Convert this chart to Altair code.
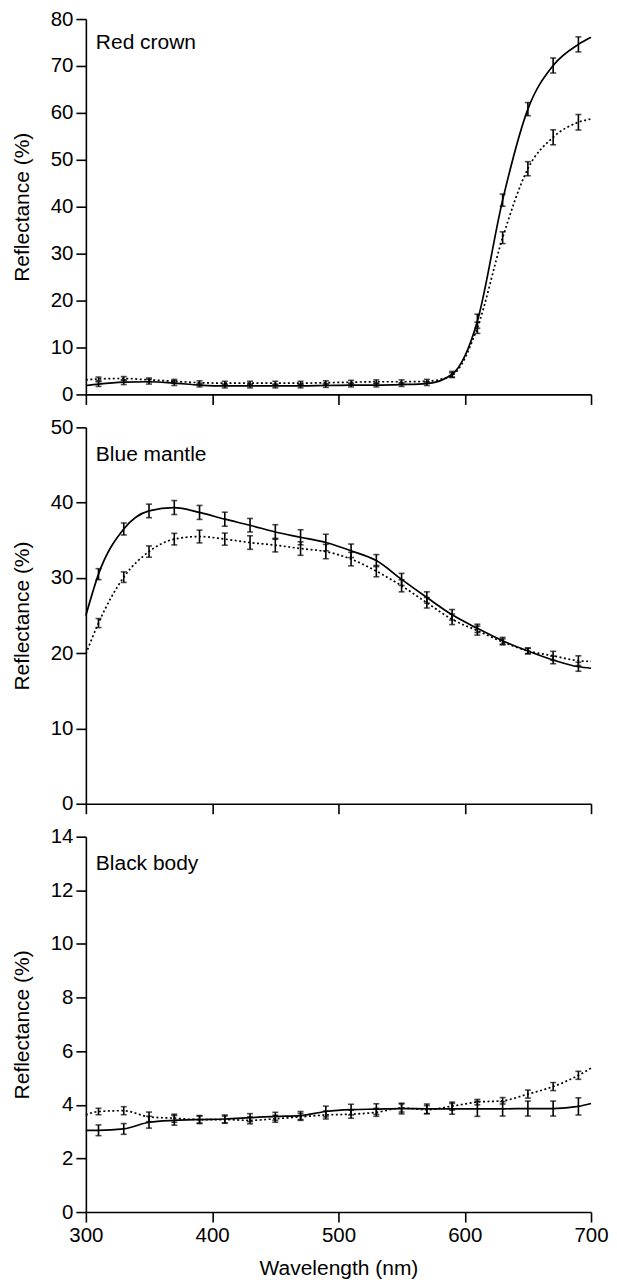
import altair as alt
import pandas as pd

# Wavelengths (nm) at which error bars are drawn
WL = [310, 330, 350, 370, 390, 410, 430, 450, 470, 490,
      510, 530, 550, 570, 590, 610, 630, 650, 670, 690]
WL_START, WL_END = 300, 700

# ---- Red crown ----
RC_SOLID = [2.2, 2.6, 2.7, 2.4, 2.0, 1.8, 1.8, 1.8, 1.8, 1.9,
            2.0, 2.0, 2.1, 2.3, 4.3, 15.6, 41.4, 60.8, 70.1, 74.6]
RC_SOLID_ERR = [0.5, 0.5, 0.5, 0.5, 0.4, 0.4, 0.4, 0.4, 0.4, 0.4,
                0.4, 0.4, 0.4, 0.4, 0.6, 1.5, 1.3, 1.4, 1.6, 1.6]
RC_SOLID_ENDS = [1.9, 76.1]
RC_DOT = [3.3, 3.4, 3.1, 2.8, 2.5, 2.4, 2.4, 2.4, 2.4, 2.5,
          2.6, 2.7, 2.7, 2.8, 4.1, 14.2, 33.4, 48.1, 54.8, 58.0]
RC_DOT_ERR = [0.4, 0.4, 0.4, 0.4, 0.4, 0.4, 0.4, 0.4, 0.4, 0.4,
              0.4, 0.4, 0.4, 0.4, 0.5, 1.2, 1.25, 1.5, 1.6, 1.65]
RC_DOT_ENDS = [3.1, 58.7]

# ---- Blue mantle ----
BM_SOLID = [30.5, 36.5, 38.9, 39.35, 38.7, 37.8, 37.0, 36.1, 35.4, 34.7,
            33.6, 32.3, 29.8, 27.4, 25.1, 23.3, 21.65, 20.3, 19.1, 18.2]
BM_SOLID_ERR = [0.73, 0.8, 0.9, 0.93, 0.93, 0.93, 0.9, 0.97, 1.0, 1.1,
                0.9, 0.8, 0.8, 0.75, 0.7, 0.55, 0.45, 0.4, 0.5, 0.6]
BM_SOLID_ENDS = [25.0, 18.0]
BM_DOT = [24.0, 30.1, 33.5, 35.15, 35.5, 35.15, 34.7, 34.35, 33.9, 33.5,
          32.5, 30.9, 28.95, 26.7, 24.5, 23.0, 21.5, 20.3, 19.65, 19.0]
BM_DOT_ERR = [0.6, 0.7, 0.75, 0.77, 0.85, 0.8, 0.9, 0.9, 0.9, 0.95,
              0.9, 0.75, 0.8, 0.7, 0.7, 0.6, 0.4, 0.35, 0.6, 0.65]
BM_DOT_ENDS = [19.9, 18.9]

# ---- Black body ----
BB_SOLID = [3.05, 3.1, 3.35, 3.42, 3.45, 3.47, 3.52, 3.57, 3.6, 3.75,
            3.82, 3.84, 3.86, 3.85, 3.85, 3.85, 3.85, 3.86, 3.86, 3.94]
BB_SOLID_ERR = [0.2, 0.2, 0.22, 0.18, 0.15, 0.15, 0.15, 0.15, 0.15, 0.2,
                0.2, 0.2, 0.2, 0.18, 0.2, 0.28, 0.27, 0.28, 0.28, 0.32]
BB_SOLID_ENDS = [3.05, 4.05]
BB_DOT = [3.75, 3.78, 3.55, 3.5, 3.45, 3.45, 3.42, 3.48, 3.55, 3.62,
          3.65, 3.72, 3.88, 3.82, 3.95, 4.1, 4.15, 4.4, 4.68, 5.1]
BB_DOT_ERR = [0.12, 0.15, 0.18, 0.15, 0.13, 0.13, 0.13, 0.13, 0.13, 0.15,
              0.15, 0.15, 0.15, 0.15, 0.15, 0.1, 0.12, 0.15, 0.15, 0.15]
BB_DOT_ENDS = [3.62, 5.37]

FONT = "Liberation Sans"
FS_LABEL = 20.5
FS_TITLE = 21
W = 506


def panel(name, ymax, ystep, solid, solid_err, solid_ends, dot, dot_err, dot_ends,
          show_x, height, label_dy):
    line_rows = []
    for series, vals, ends in (("solid", solid, solid_ends), ("dotted", dot, dot_ends)):
        xs = [WL_START] + WL + [WL_END]
        ys = [ends[0]] + vals + [ends[1]]
        for x, y in zip(xs, ys):
            line_rows.append({"wl": x, "r": y, "series": series})
    lines = pd.DataFrame(line_rows)

    err_rows = []
    for series, vals, errs in (("solid", solid, solid_err), ("dotted", dot, dot_err)):
        for x, m, e in zip(WL, vals, errs):
            err_rows.append({"wl": x, "lo": m - e, "hi": m + e, "series": series})
    errs = pd.DataFrame(err_rows)

    xaxis = alt.Axis(values=[300, 400, 500, 600, 700], labels=show_x, tickSize=10,
                     labelPadding=3, titlePadding=12, format="d", labelFlush=False)
    xscale = alt.Scale(domain=[300, 700], nice=False, zero=False)
    yaxis = alt.Axis(values=list(range(0, ymax + 1, ystep)), tickSize=10, labelPadding=3,
                     titlePadding=17, minExtent=36, maxExtent=36, labelFlush=False)
    yscale = alt.Scale(domain=[0, ymax], nice=False)

    if show_x:
        X = lambda f: alt.X(f, type="quantitative", scale=xscale, axis=xaxis, title="Wavelength (nm)")
    else:
        X = lambda f: alt.X(f, type="quantitative", scale=xscale, axis=xaxis, title=None)
    Y = lambda f: alt.Y(f, type="quantitative", scale=yscale, axis=yaxis, title="Reflectance (%)")

    solid_line = alt.Chart(lines).transform_filter(alt.datum.series == "solid").mark_line(
        color="black", strokeWidth=1.7, interpolate="monotone"
    ).encode(x=X("wl"), y=Y("r"))
    dot_line = alt.Chart(lines).transform_filter(alt.datum.series == "dotted").mark_line(
        color="black", strokeWidth=1.7, strokeDash=[2, 2.5], interpolate="monotone"
    ).encode(x=X("wl"), y=Y("r"))
    bars = alt.Chart(errs).mark_rule(color="black", strokeWidth=1.6).encode(
        x=X("wl"), y=Y("lo"), y2="hi"
    )
    cap_hi = alt.Chart(errs).mark_tick(color="black", orient="horizontal", size=6, thickness=1.6).encode(
        x=X("wl"), y=Y("hi")
    )
    cap_lo = alt.Chart(errs).mark_tick(color="black", orient="horizontal", size=6, thickness=1.6).encode(
        x=X("wl"), y=Y("lo")
    )
    label = alt.Chart(pd.DataFrame({"t": [name]})).mark_text(
        align="left", baseline="middle", font=FONT, fontSize=FS_TITLE, color="black"
    ).encode(x=alt.value(10), y=alt.value(label_dy), text="t:N")

    return alt.layer(solid_line, dot_line, bars, cap_hi, cap_lo, label).properties(width=W, height=height)


p1 = panel("Red crown", 80, 10, RC_SOLID, RC_SOLID_ERR, RC_SOLID_ENDS, RC_DOT, RC_DOT_ERR, RC_DOT_ENDS,
           False, 376, 24)
p2 = panel("Blue mantle", 50, 10, BM_SOLID, BM_SOLID_ERR, BM_SOLID_ENDS, BM_DOT, BM_DOT_ERR, BM_DOT_ENDS,
           False, 377, 27.5)
p3 = panel("Black body", 14, 2, BB_SOLID, BB_SOLID_ERR, BB_SOLID_ENDS, BB_DOT, BB_DOT_ERR, BB_DOT_ENDS,
           True, 376, 27.5)

chart = alt.vconcat(p1, p2, p3, spacing=12).properties(
    padding={"left": 4, "top": 0, "right": 0, "bottom": 0}
).configure_view(strokeWidth=0).configure_axis(
    grid=False,
    domainColor="black", domainWidth=1.6,
    tickColor="black", tickWidth=1.6,
    labelFont=FONT, labelFontSize=FS_LABEL, labelColor="black",
    titleFont=FONT, titleFontSize=FS_TITLE, titleColor="black", titleFontWeight="normal",
)

chart.save("out.html", embed_options={"renderer": "svg", "actions": False})
